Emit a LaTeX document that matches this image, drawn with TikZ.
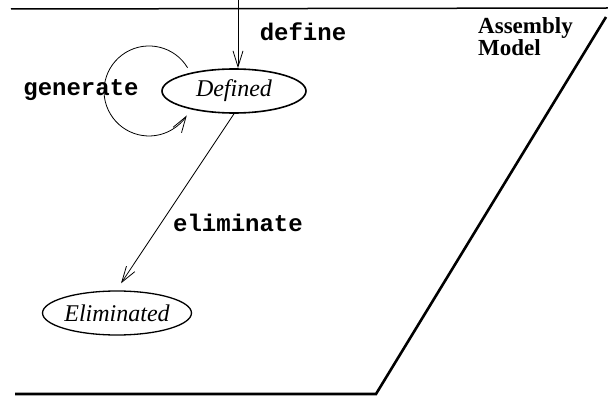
\documentclass[tikz,border=0pt]{standalone}
\usepackage{fontspec}
\setmainfont{Liberation Serif}
\newfontfamily\monofont{Liberation Mono}
\usetikzlibrary{shapes.geometric,arrows.meta}
\tikzset{
  state/.style={ellipse,draw,line width=1.6pt,minimum width=144pt,minimum height=44pt,inner sep=0pt,font=\fontsize{24}{24}\selectfont\itshape},
  lbl/.style={font=\fontsize{24}{24}\selectfont\monofont\bfseries,inner sep=0pt},
  arr/.style={line width=0.8pt,-{Straight Barb[length=16pt,width=10pt,line width=0.8pt]}},
  frame/.style={line width=1.5pt},
  thick frame/.style={line width=2.6pt}
}
\begin{document}
\begin{tikzpicture}[x=1pt,y=1pt]
\useasboundingbox (0,0) rectangle (608,-398);
% frame
\coordinate (tl) at (11,-9);
\coordinate (tr) at (608,-8);
\coordinate (sr) at (606,-17);
\coordinate (bc) at (376,-394);
\coordinate (bl) at (15,-394);
\draw[frame] (tl) -- (tr);
\draw[thick frame,line join=miter] (sr) -- (bc) -- (bl);
% states
\node[state] (d) at (234,-91) {Defined};
\node[state,line width=1.3pt] (e) at (117,-313) {Eliminated};
% labels
\node[lbl] (ldef) at (303,-32) {define};
\node[lbl] (lgen) at (81,-90) {generate};
\node[lbl] (lelim) at (238,-223) {eliminate};
\node[font=\fontsize{23}{22}\selectfont\bfseries,align=left,anchor=north west,inner sep=0pt] (am) at (478,-17) {Assembly\\Model};
% connectors
\coordinate (in) at (238,0);
\draw[arr] (in) -- (in |- d.north);
\coordinate (ls) at (187.6,-67.8);
\draw[arr] (ls) arc[start angle=31,end angle=327,radius=45];
\draw[arr] (d.south) -- ([shift={(4,7)}]e.north);
\end{tikzpicture}
\end{document}
